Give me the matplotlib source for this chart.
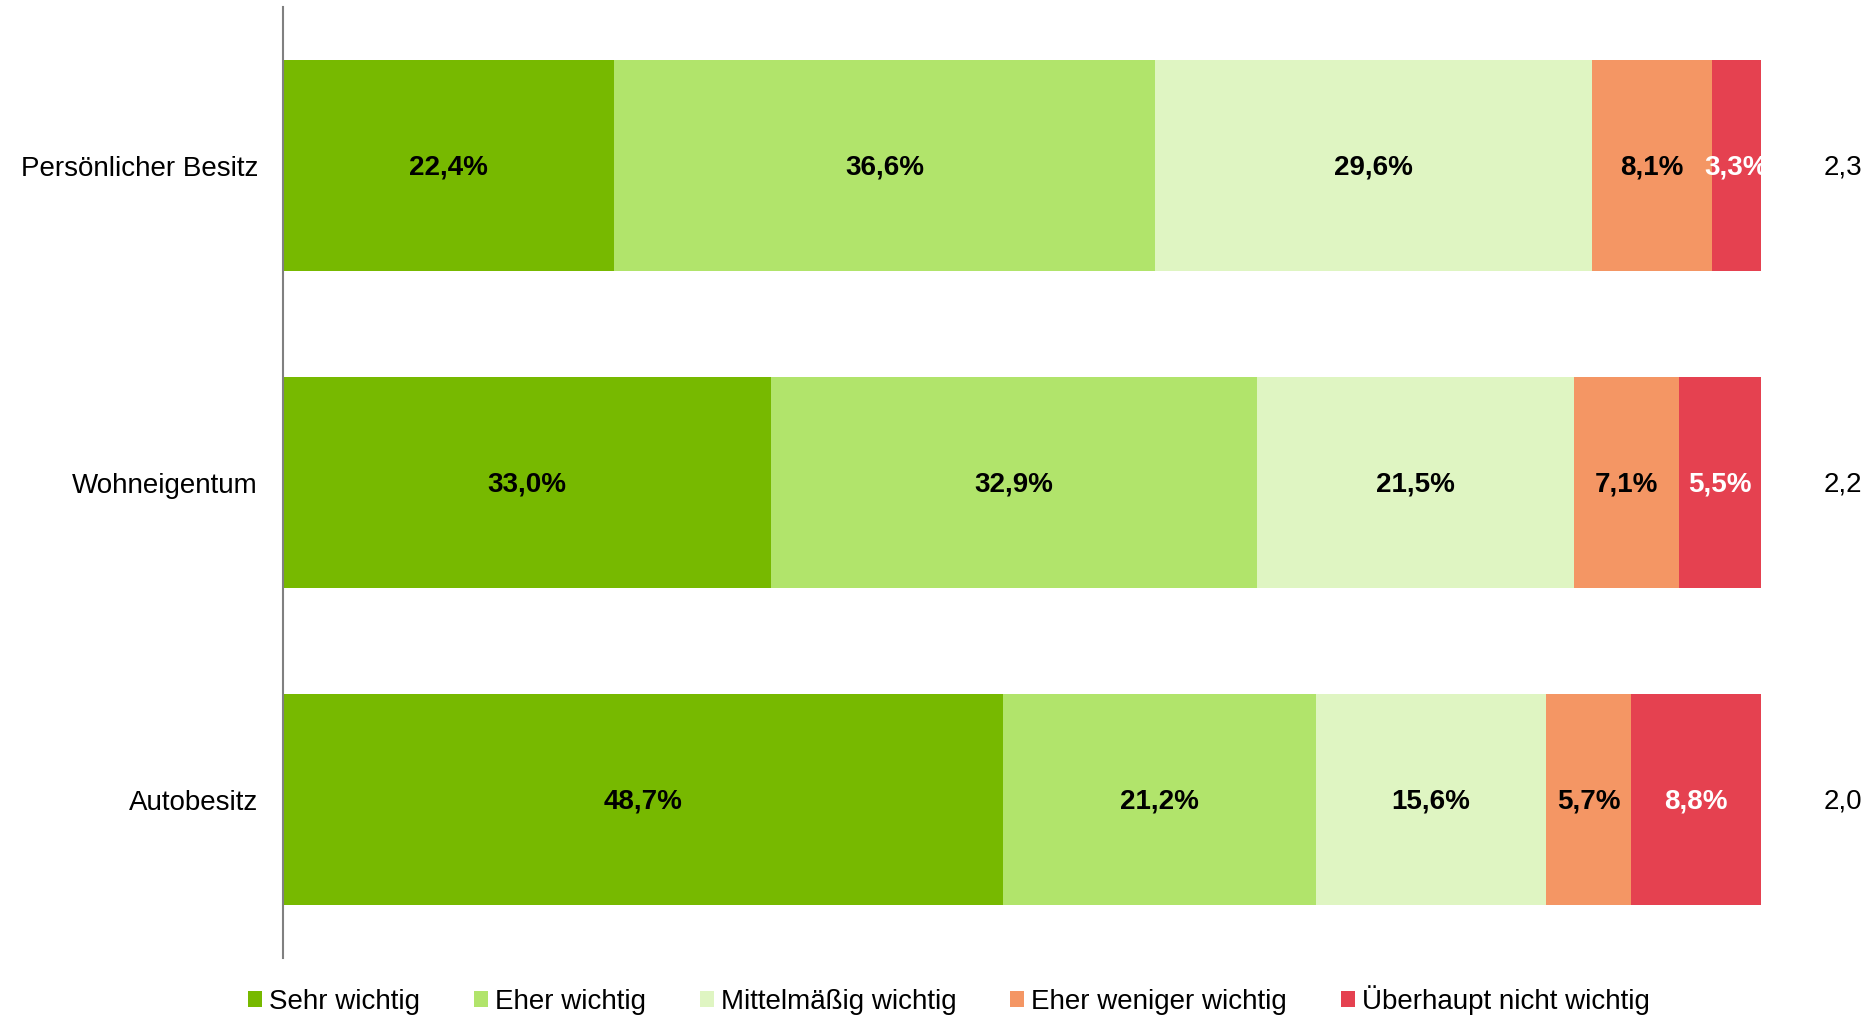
import numpy as np
import matplotlib
matplotlib.use("Agg")
import matplotlib.pyplot as plt
from matplotlib.patches import Patch

plt.rcParams['font.family'] = ['Liberation Sans', 'DejaVu Sans']

categories = ['Persönlicher Besitz', 'Wohneigentum', 'Autobesitz']
series = ['Sehr wichtig', 'Eher wichtig', 'Mittelmäßig wichtig',
          'Eher weniger wichtig', 'Überhaupt nicht wichtig']
values = [
    [22.4, 33.0, 48.7],
    [36.6, 32.9, 21.2],
    [29.6, 21.5, 15.6],
    [8.1, 7.1, 5.7],
    [3.3, 5.5, 8.8],
]
means = ['2,3', '2,2', '2,0']
colors = ['#77b900', '#b1e46b', '#dff5c2', '#f49664', '#e54150']
text_colors = ['black', 'black', 'black', 'black', 'white']

fig = plt.figure(figsize=(18.75, 10.16), dpi=100)
ax = fig.add_axes([0.151, 0.057, 0.788, 0.936])

y = np.arange(len(categories))
left = np.zeros(len(categories))
for vals, col, tcol in zip(values, colors, text_colors):
    vals = np.array(vals)
    ax.barh(y, vals, left=left, height=0.665, color=col, edgecolor='none')
    for yi, l, v in zip(y, left, vals):
        ax.text(l + v / 2, yi + 0.006, f'{v:.1f}%'.replace('.', ','), ha='center', va='center',
                fontsize=20, fontweight='bold', color=tcol)
    left += vals

for yi, m in zip(y, means):
    ax.text(105.6, yi + 0.006, m, ha='center', va='center', fontsize=20, color='black')

ax.set_xlim(0, 100)
ax.set_ylim(2.5, -0.5)
ax.set_yticks(y)
ax.set_yticklabels(categories, fontsize=20)
ax.tick_params(axis='y', length=0, pad=18)
ax.set_xticks([])
for s in ['top', 'right', 'bottom']:
    ax.spines[s].set_visible(False)
ax.spines['left'].set_color('#808080')
ax.spines['left'].set_linewidth(1.5)

handles = [Patch(facecolor=c, edgecolor='none') for c in colors]
fig.legend(handles, series, loc='center', bbox_to_anchor=(0.506, 0.016), ncol=5,
           frameon=False, fontsize=20, handlelength=0.5, handleheight=0.5,
           handletextpad=0.25, columnspacing=1.95)

fig.savefig('out.png', dpi=100)
